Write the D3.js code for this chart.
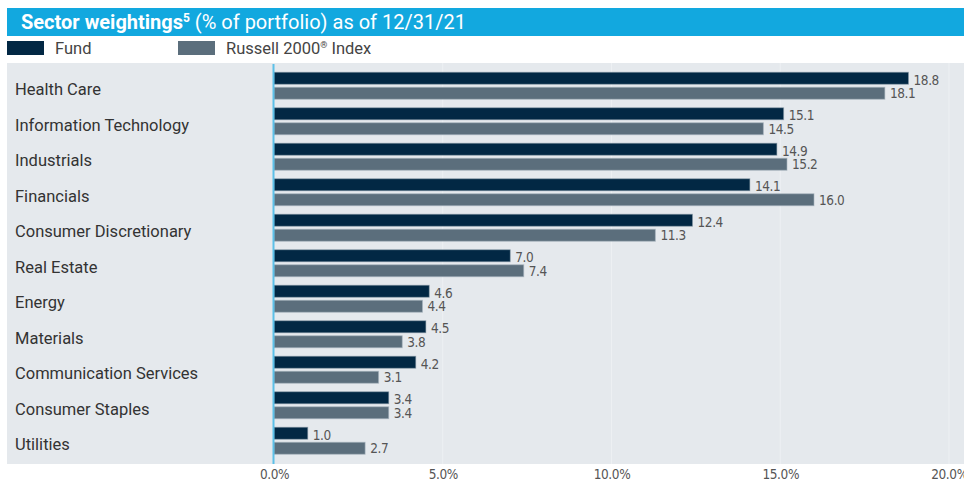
<!DOCTYPE html>
<html><head><meta charset="utf-8">
<script src="https://cdn.jsdelivr.net/npm/d3@7"></script>
<style>
body{margin:0;background:#fff;}
svg{display:block;}
</style></head>
<body>
<svg id="chart" width="964" height="483"></svg>
<script>
const categories = ["Health Care","Information Technology","Industrials","Financials","Consumer Discretionary","Real Estate","Energy","Materials","Communication Services","Consumer Staples","Utilities"];
const fundValues = [18.8,15.1,14.9,14.1,12.4,7.0,4.6,4.5,4.2,3.4,1.0];
const indexValues = [18.1,14.5,15.2,16.0,11.3,7.4,4.4,3.8,3.1,3.4,2.7];
const seriesNames = ["Fund","Russell 2000"];
const tickValues = [0,5,10,15,20];

const svg = d3.select("#chart");
const labelFont = "Roboto, 'Noto Sans', sans-serif";
const numFont = "'DejaVu Sans Condensed','Liberation Sans Narrow',sans-serif";
const fundColor = "#022844", indexColor = "#5b6e7c";

// title bar
svg.append("rect").attr("x",7).attr("y",8).attr("width",957).attr("height",28).attr("fill","#12a8df");
const title = svg.append("text").attr("x",21).attr("y",29).attr("fill","#fff")
  .attr("font-family",labelFont).attr("font-size",20);
title.append("tspan").attr("font-weight","bold").text("Sector weightings");
title.append("tspan").attr("font-weight","bold").attr("font-size",12).attr("dy",-7).text("5");
title.append("tspan").attr("dy",7).text(" (% of portfolio) as of 12/31/21");

// legend
const legend = [{name:seriesNames[0], sup:"", after:"", color:fundColor, x:7},
                {name:seriesNames[1], sup:"®", after:" Index", color:indexColor, x:178}];
legend.forEach(l=>{
  svg.append("rect").attr("x",l.x).attr("y",41).attr("width",37).attr("height",14).attr("fill",l.color);
  const t = svg.append("text").attr("x",l.x+48).attr("y",54).attr("fill","#444")
    .attr("font-family",labelFont).attr("font-size",16.5);
  t.append("tspan").text(l.name);
  if(l.sup){
    t.append("tspan").attr("font-size",9).attr("dy",-6).text(l.sup);
    t.append("tspan").attr("dy",6).text(l.after);
  }
});

// plot background
svg.append("rect").attr("x",7).attr("y",63).attr("width",957).attr("height",401).attr("fill","#e5e9ed");

const x = d3.scaleLinear().domain([0,20]).range([274,949]);
const y = d3.scaleBand().domain(categories).range([68,458.5]).padding(0);

// gridlines
svg.append("g").selectAll("line").data(tickValues.slice(1)).join("line")
  .attr("x1",d=>x(d)).attr("x2",d=>x(d)).attr("y1",63).attr("y2",464)
  .attr("stroke","#edf0f3").attr("stroke-width",1);

// category labels
svg.append("g").selectAll("text").data(categories).join("text")
  .attr("x",15).attr("y",d=>y(d)+y.bandwidth()/2+4).attr("dominant-baseline","central")
  .attr("font-family",labelFont).attr("font-size",16.5).attr("fill","#333").text(d=>d);

const barH = 12, gap = 1.5;
const data = categories.map((c,i)=>({c, f:fundValues[i], r:indexValues[i]}));

const g = svg.append("g");
g.selectAll("rect.f").data(data).join("rect").attr("class","f")
  .attr("x",x(0)).attr("y",d=>y(d.c)+y.bandwidth()/2-gap-barH)
  .attr("width",d=>x(d.f)-x(0)).attr("height",barH)
  .attr("fill",fundColor).attr("stroke","#8a9aa8").attr("stroke-opacity",0.5).attr("stroke-width",1);
g.selectAll("rect.r").data(data).join("rect").attr("class","r")
  .attr("x",x(0)).attr("y",d=>y(d.c)+y.bandwidth()/2+gap)
  .attr("width",d=>x(d.r)-x(0)).attr("height",barH)
  .attr("fill",indexColor).attr("stroke","#a9b5bf").attr("stroke-opacity",0.6).attr("stroke-width",1);

// value labels
g.selectAll("text.fv").data(data).join("text").attr("class","fv")
  .attr("x",d=>x(d.f)+5).attr("y",d=>y(d.c)+y.bandwidth()/2-gap-barH/2+1.5)
  .attr("dominant-baseline","central").attr("font-family",numFont).attr("font-size",13.5)
  .attr("letter-spacing",-0.4).attr("fill","#555")
  .text(d=>d.f.toFixed(1));
g.selectAll("text.rv").data(data).join("text").attr("class","rv")
  .attr("x",d=>x(d.r)+5).attr("y",d=>y(d.c)+y.bandwidth()/2+gap+barH/2)
  .attr("dominant-baseline","central").attr("font-family",numFont).attr("font-size",13.5)
  .attr("letter-spacing",-0.4).attr("fill","#555")
  .text(d=>d.r.toFixed(1));

// zero axis line
svg.append("line").attr("x1",x(0)-0.5).attr("x2",x(0)-0.5).attr("y1",64).attr("y2",464)
  .attr("stroke","#5cc0e8").attr("stroke-width",2);

// x axis ticks
const axis = svg.append("g").attr("transform","translate(0,464)")
  .call(d3.axisBottom(x).tickValues(tickValues).tickSize(0).tickPadding(0).tickFormat(d=>d.toFixed(1)+"%"));
axis.select(".domain").remove();
axis.selectAll("text").attr("font-family",numFont).attr("font-size",13.5).attr("letter-spacing",-0.4)
  .attr("fill","#555").attr("dy",null).attr("y",15);
</script>
</body></html>
